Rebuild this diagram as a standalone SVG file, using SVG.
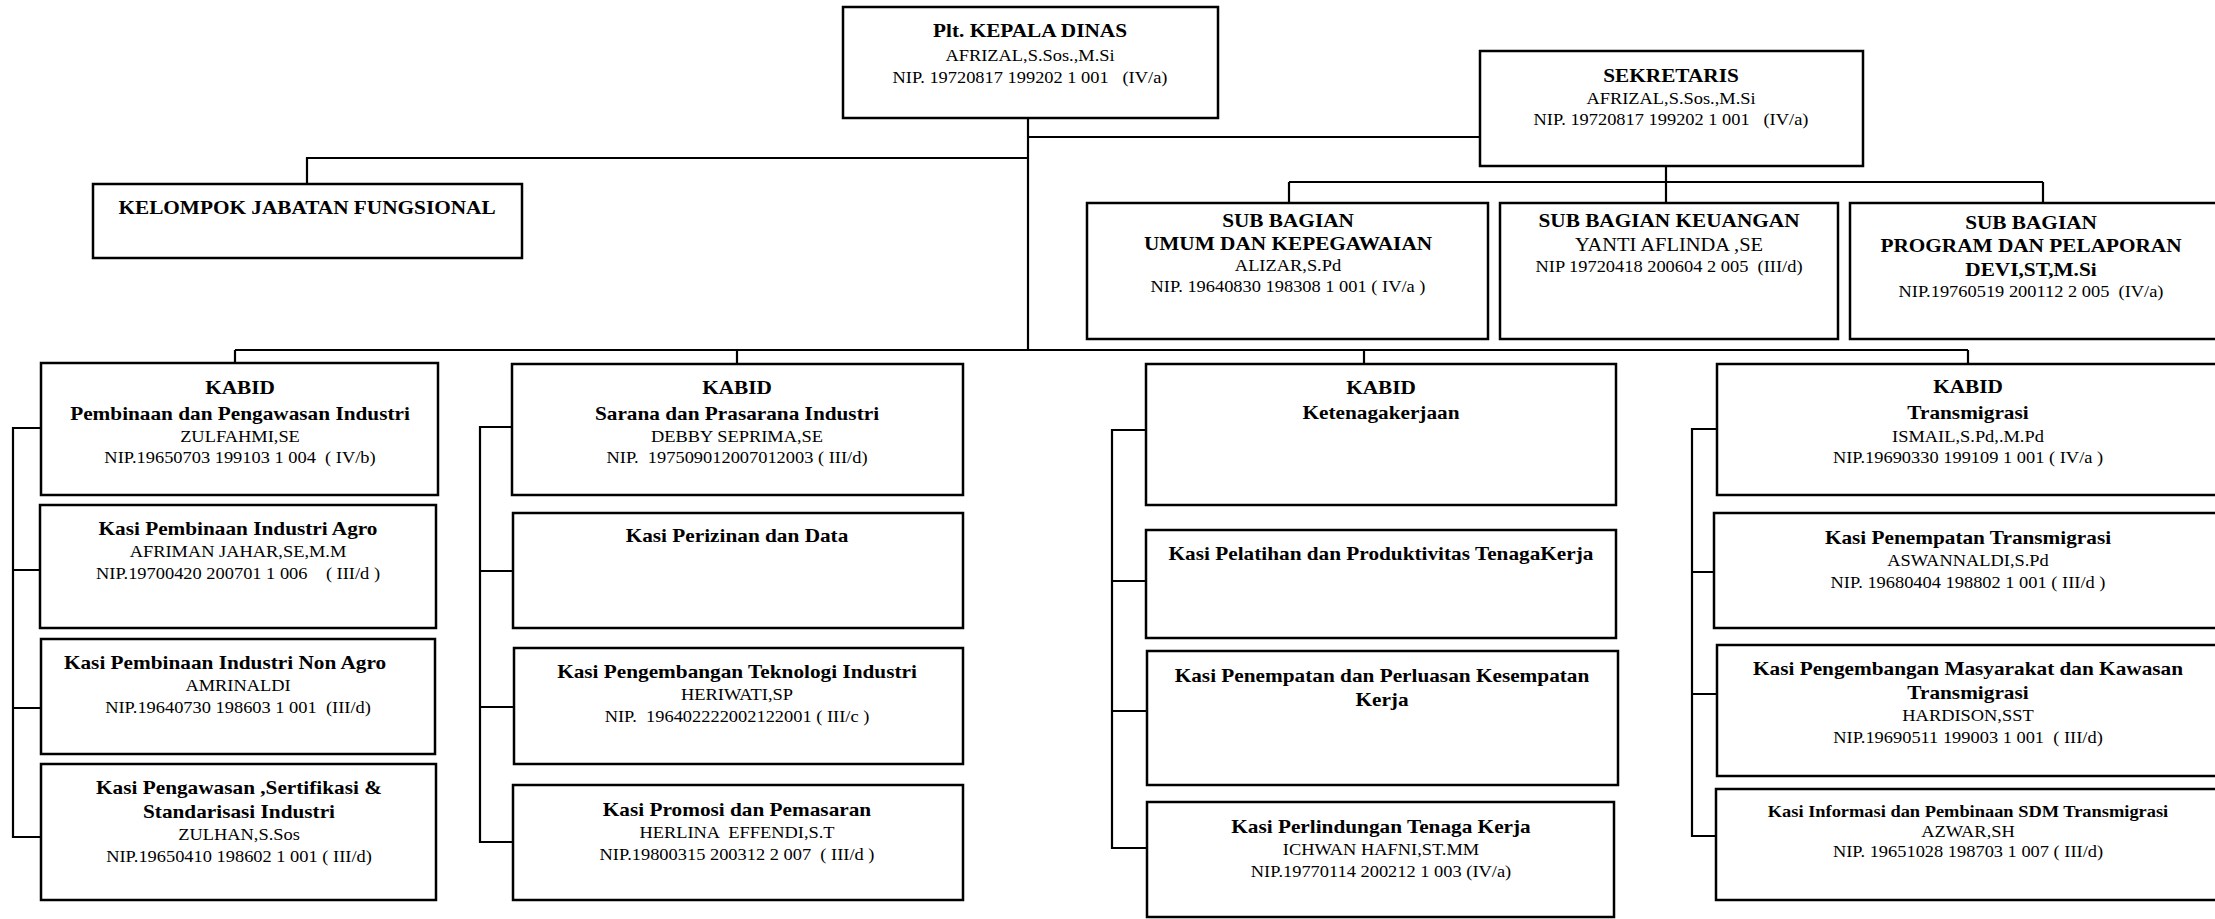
<svg xmlns="http://www.w3.org/2000/svg" width="2215" height="919" viewBox="0 0 2215 919" xml:space="preserve">
<style>
.box{fill:#fff;stroke:#000;stroke-width:2.5}
.conn{fill:none;stroke:#000;stroke-width:2.2}
text{font-family:"Liberation Serif","Times New Roman",serif;text-anchor:middle;fill:#000;white-space:pre}
.b{font-weight:bold;font-size:18.5px}
.bs{font-weight:bold;font-size:16px}
.r{font-size:16px}
.rl{font-size:17.8px}
</style>
<rect width="2215" height="919" fill="#fff"/>
<g id="connectors" class="conn">
<path d="M1028 118V350"/>
<path d="M1028 137H1480"/>
<path d="M1028 158H307V184"/>
<path d="M1666 166V182M1289 182H2043M1289 182V203M1666 182V203M2043 182V203"/>
<path d="M235 350H1968M235 350V363M737 350V364M1364 350V364M1968 350V364"/>
<path d="M41 428H13V837H41M13 570H40M13 708H41"/>
<path d="M512 427H480V842H513M480 571H513M480 707H514"/>
<path d="M1146 430H1112V848H1147M1112 581H1146M1112 711H1147"/>
<path d="M1717 429H1692V836H1716M1692 572H1714M1692 694H1717"/>
</g>
<g id="kepala-dinas"><rect class="box" x="843" y="7" width="375" height="111"/>
<g transform="translate(1030 0) scale(1.15 1)"><text class="b" x="0" y="37">Plt. KEPALA DINAS</text><text class="r" x="0" y="61">AFRIZAL,S.Sos.,M.Si</text><text class="r" x="0" y="83" xml:space="preserve">NIP. 19720817 199202 1 001   (IV/a)</text></g></g>
<g id="sekretaris"><rect class="box" x="1480" y="51" width="383" height="115"/>
<g transform="translate(1671 0) scale(1.15 1)"><text class="b" x="0" y="82">SEKRETARIS</text><text class="r" x="0" y="104">AFRIZAL,S.Sos.,M.Si</text><text class="r" x="0" y="125" xml:space="preserve">NIP. 19720817 199202 1 001   (IV/a)</text></g></g>
<g id="kelompok"><rect class="box" x="93" y="184" width="429" height="74"/>
<g transform="translate(307 0) scale(1.15 1)"><text class="b" x="0" y="214">KELOMPOK JABATAN FUNGSIONAL</text></g></g>
<g id="sub-umum"><rect class="box" x="1087" y="203" width="401" height="136"/>
<g transform="translate(1288 0) scale(1.15 1)"><text class="b" x="0" y="227">SUB BAGIAN</text><text class="b" x="0" y="250">UMUM DAN KEPEGAWAIAN</text><text class="r" x="0" y="271">ALIZAR,S.Pd</text><text class="r" x="0" y="292">NIP. 19640830 198308 1 001 ( IV/a )</text></g></g>
<g id="sub-keuangan"><rect class="box" x="1500" y="203" width="338" height="136"/>
<g transform="translate(1669 0) scale(1.15 1)"><text class="b" x="0" y="227">SUB BAGIAN KEUANGAN</text><text class="rl" x="0" y="251">YANTI AFLINDA ,SE</text><text class="r" x="0" y="272" xml:space="preserve">NIP 19720418 200604 2 005  (III/d)</text></g></g>
<g id="sub-program"><rect class="box" x="1850" y="203" width="460" height="136"/>
<g transform="translate(2031 0) scale(1.15 1)"><text class="b" x="0" y="229">SUB BAGIAN</text><text class="b" x="0" y="252">PROGRAM DAN PELAPORAN</text><text class="b" x="0" y="276">DEVI,ST,M.Si</text><text class="r" x="0" y="297" xml:space="preserve">NIP.19760519 200112 2 005  (IV/a)</text></g></g>
<g id="kabid-pembinaan"><rect class="box" x="41" y="363" width="397" height="132"/>
<g transform="translate(240 0) scale(1.15 1)"><text class="b" x="0" y="394">KABID</text><text class="b" x="0" y="420">Pembinaan dan Pengawasan Industri</text><text class="r" x="0" y="442">ZULFAHMI,SE</text><text class="r" x="0" y="463" xml:space="preserve">NIP.19650703 199103 1 004  ( IV/b)</text></g></g>
<g id="kasi-agro"><rect class="box" x="40" y="505" width="396" height="123"/>
<g transform="translate(238 0) scale(1.15 1)"><text class="b" x="0" y="535">Kasi Pembinaan Industri Agro</text><text class="r" x="0" y="557">AFRIMAN JAHAR,SE,M.M</text><text class="r" x="0" y="579" xml:space="preserve">NIP.19700420 200701 1 006    ( III/d )</text></g></g>
<g id="kasi-non-agro"><rect class="box" x="41" y="639" width="394" height="115"/>
<g transform="translate(225 0) scale(1.15 1)"><text class="b" x="0" y="669">Kasi Pembinaan Industri Non Agro</text></g>
<g transform="translate(238 0) scale(1.15 1)"><text class="r" x="0" y="691">AMRINALDI</text><text class="r" x="0" y="713" xml:space="preserve">NIP.19640730 198603 1 001  (III/d)</text></g></g>
<g id="kasi-pengawasan"><rect class="box" x="41" y="764" width="395" height="136"/>
<g transform="translate(239 0) scale(1.15 1)"><text class="b" x="0" y="794">Kasi Pengawasan ,Sertifikasi &amp;</text><text class="b" x="0" y="818">Standarisasi Industri</text><text class="r" x="0" y="840">ZULHAN,S.Sos</text><text class="r" x="0" y="862">NIP.19650410 198602 1 001 ( III/d)</text></g></g>
<g id="kabid-sarana"><rect class="box" x="512" y="364" width="451" height="131"/>
<g transform="translate(737 0) scale(1.15 1)"><text class="b" x="0" y="394">KABID</text><text class="b" x="0" y="420">Sarana dan Prasarana Industri</text><text class="r" x="0" y="442">DEBBY SEPRIMA,SE</text><text class="r" x="0" y="463" xml:space="preserve">NIP.  197509012007012003 ( III/d)</text></g></g>
<g id="kasi-perizinan"><rect class="box" x="513" y="513" width="450" height="115"/>
<g transform="translate(737 0) scale(1.15 1)"><text class="b" x="0" y="542">Kasi Perizinan dan Data</text></g></g>
<g id="kasi-teknologi"><rect class="box" x="514" y="648" width="449" height="116"/>
<g transform="translate(737 0) scale(1.15 1)"><text class="b" x="0" y="678">Kasi Pengembangan Teknologi Industri</text><text class="r" x="0" y="700">HERIWATI,SP</text><text class="r" x="0" y="722" xml:space="preserve">NIP.  196402222002122001 ( III/c )</text></g></g>
<g id="kasi-promosi"><rect class="box" x="513" y="785" width="450" height="115"/>
<g transform="translate(737 0) scale(1.15 1)"><text class="b" x="0" y="816">Kasi Promosi dan Pemasaran</text><text class="r" x="0" y="838" xml:space="preserve">HERLINA  EFFENDI,S.T</text><text class="r" x="0" y="860" xml:space="preserve">NIP.19800315 200312 2 007  ( III/d )</text></g></g>
<g id="kabid-ketenagakerjaan"><rect class="box" x="1146" y="364" width="470" height="141"/>
<g transform="translate(1381 0) scale(1.15 1)"><text class="b" x="0" y="394">KABID</text><text class="b" x="0" y="419">Ketenagakerjaan</text></g></g>
<g id="kasi-pelatihan"><rect class="box" x="1146" y="530" width="470" height="108"/>
<g transform="translate(1381 0) scale(1.15 1)"><text class="b" x="0" y="560">Kasi Pelatihan dan Produktivitas TenagaKerja</text></g></g>
<g id="kasi-penempatan-kerja"><rect class="box" x="1147" y="651" width="471" height="134"/>
<g transform="translate(1382 0) scale(1.15 1)"><text class="b" x="0" y="682">Kasi Penempatan dan Perluasan Kesempatan</text><text class="b" x="0" y="706">Kerja</text></g></g>
<g id="kasi-perlindungan"><rect class="box" x="1147" y="802" width="467" height="115"/>
<g transform="translate(1381 0) scale(1.15 1)"><text class="b" x="0" y="833">Kasi Perlindungan Tenaga Kerja</text><text class="r" x="0" y="855">ICHWAN HAFNI,ST.MM</text><text class="r" x="0" y="877">NIP.19770114 200212 1 003 (IV/a)</text></g></g>
<g id="kabid-transmigrasi"><rect class="box" x="1717" y="364" width="508" height="131"/>
<g transform="translate(1968 0) scale(1.15 1)"><text class="b" x="0" y="393">KABID</text><text class="b" x="0" y="419">Transmigrasi</text><text class="r" x="0" y="442">ISMAIL,S.Pd,.M.Pd</text><text class="r" x="0" y="463">NIP.19690330 199109 1 001 ( IV/a )</text></g></g>
<g id="kasi-penempatan-transmigrasi"><rect class="box" x="1714" y="513" width="511" height="115"/>
<g transform="translate(1968 0) scale(1.15 1)"><text class="b" x="0" y="544">Kasi Penempatan Transmigrasi</text><text class="r" x="0" y="566">ASWANNALDI,S.Pd</text><text class="r" x="0" y="588">NIP. 19680404 198802 1 001 ( III/d )</text></g></g>
<g id="kasi-pengembangan-masyarakat"><rect class="box" x="1717" y="645" width="508" height="131"/>
<g transform="translate(1968 0) scale(1.15 1)"><text class="b" x="0" y="675">Kasi Pengembangan Masyarakat dan Kawasan</text><text class="b" x="0" y="699">Transmigrasi</text><text class="r" x="0" y="721">HARDISON,SST</text><text class="r" x="0" y="743" xml:space="preserve">NIP.19690511 199003 1 001  ( III/d)</text></g></g>
<g id="kasi-informasi"><rect class="box" x="1716" y="789" width="509" height="111"/>
<g transform="translate(1968 0) scale(1.15 1)"><text class="bs" x="0" y="817">Kasi Informasi dan Pembinaan SDM Transmigrasi</text><text class="r" x="0" y="837">AZWAR,SH</text><text class="r" x="0" y="857">NIP. 19651028 198703 1 007 ( III/d)</text></g></g>
</svg>
